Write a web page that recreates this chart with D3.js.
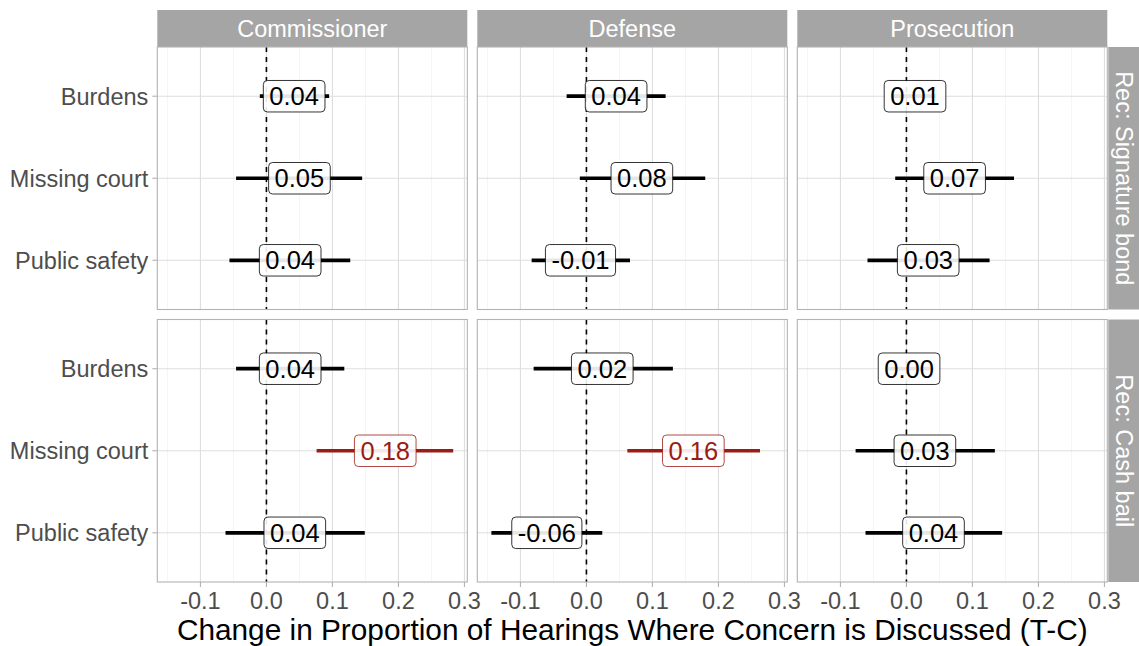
<!DOCTYPE html>
<html>
<head>
<meta charset="utf-8">
<script src="https://cdn.jsdelivr.net/npm/d3@7"></script>
<style>
  html, body { margin: 0; padding: 0; background: #ffffff; }
  svg { display: block; font-family: "Liberation Sans", Arial, Helvetica, sans-serif; }
</style>
</head>
<body>
<svg id="chart" width="1139" height="646"></svg>
<script>
// ---------------- DATA ----------------
const roles = ["Commissioner", "Defense", "Prosecution"];
const recs = ["Rec: Signature bond", "Rec: Cash bail"];
const concerns = ["Burdens", "Missing court", "Public safety"];
const xTicks = [-0.1, 0.0, 0.1, 0.2, 0.3];
const xMinorTicks = [-0.15, -0.05, 0.05, 0.15, 0.25];

// one entry per (rec, role, concern), in that nesting order
const rowRec     = ["Rec: Signature bond","Rec: Signature bond","Rec: Signature bond","Rec: Signature bond","Rec: Signature bond","Rec: Signature bond","Rec: Signature bond","Rec: Signature bond","Rec: Signature bond",
                    "Rec: Cash bail","Rec: Cash bail","Rec: Cash bail","Rec: Cash bail","Rec: Cash bail","Rec: Cash bail","Rec: Cash bail","Rec: Cash bail","Rec: Cash bail"];
const rowRole    = ["Commissioner","Commissioner","Commissioner","Defense","Defense","Defense","Prosecution","Prosecution","Prosecution",
                    "Commissioner","Commissioner","Commissioner","Defense","Defense","Defense","Prosecution","Prosecution","Prosecution"];
const rowConcern = ["Burdens","Missing court","Public safety","Burdens","Missing court","Public safety","Burdens","Missing court","Public safety",
                    "Burdens","Missing court","Public safety","Burdens","Missing court","Public safety","Burdens","Missing court","Public safety"];
const estimate   = [0.042, 0.050, 0.036, 0.045, 0.084, -0.009, 0.013, 0.073, 0.033,
                    0.036, 0.180, 0.043, 0.024, 0.162, -0.060, 0.004, 0.028, 0.041];
const lower      = [-0.010, -0.046, -0.056, -0.030, -0.010, -0.083, -0.020, -0.017, -0.059,
                    -0.046, 0.076, -0.062, -0.080, 0.062, -0.144, -0.030, -0.077, -0.062];
const upper      = [0.095, 0.145, 0.127, 0.120, 0.180, 0.066, 0.045, 0.163, 0.126,
                    0.118, 0.283, 0.149, 0.131, 0.263, 0.024, 0.040, 0.134, 0.145];
const significant = [false,false,false,false,false,false,false,false,false,
                     false,true,false,false,true,false,false,false,false];

const data = estimate.map((e, i) => ({
  rec: rowRec[i], role: rowRole[i], concern: rowConcern[i],
  est: e, lo: lower[i], hi: upper[i], sig: significant[i]
}));

// ---------------- LAYOUT ----------------
const svg = d3.select("#chart");
const panelLeft = 157.3, panelW = 310, panelGapX = 10;
const stripTop = 10, stripH = 37;
const panelTop = stripTop + stripH, panelH = 262.5, panelGapY = 10;
const rightStripW = 31;

const COL_BORDER = "#b3b3b3";
const COL_MAJOR = "#dedede";
const COL_MINOR = "#ececec";
const COL_STRIP = "#a5a5a5";
const COL_AXISTXT = "#4d4d4d";
const COL_SIG = "#9b1c14";

// x scale (with ggplot-like 5% expansion of the data range)
const lo = d3.min(data, d => d.lo), hi = d3.max(data, d => d.hi);
const pad = (hi - lo) * 0.05;
const x = d3.scaleLinear().domain([lo - pad, hi + pad]).range([0, panelW]);
const y = d3.scalePoint().domain(concerns).range([0, panelH]).padding(0.6);

const colX = i => panelLeft + i * (panelW + panelGapX);
const rowY = j => panelTop + j * (panelH + panelGapY);

// ---------------- STRIPS ----------------
roles.forEach((r, i) => {
  svg.append("rect").attr("x", colX(i)).attr("y", stripTop)
    .attr("width", panelW).attr("height", stripH).attr("fill", COL_STRIP);
  svg.append("text").attr("x", colX(i) + panelW / 2).attr("y", stripTop + stripH / 2 + 8.5)
    .attr("text-anchor", "middle").attr("fill", "#ffffff").attr("font-size", 23.5).text(r);
});
recs.forEach((r, j) => {
  const sx = colX(2) + panelW + 1;
  svg.append("rect").attr("x", sx).attr("y", rowY(j))
    .attr("width", rightStripW + 5).attr("height", panelH).attr("fill", COL_STRIP);
  const cx = sx + 16, cy = rowY(j) + panelH / 2;
  svg.append("text").attr("transform", `translate(${cx},${cy}) rotate(90)`)
    .attr("text-anchor", "middle").attr("dy", 8.5)
    .attr("fill", "#ffffff").attr("font-size", 23.5).text(r);
});

// ---------------- PANELS ----------------
recs.forEach((rec, j) => {
  roles.forEach((role, i) => {
    const g = svg.append("g").attr("transform", `translate(${colX(i)},${rowY(j)})`);
    // minor grid
    g.selectAll(".minor").data(xMinorTicks).join("line")
      .attr("x1", d => x(d)).attr("x2", d => x(d)).attr("y1", 0).attr("y2", panelH)
      .attr("stroke", COL_MINOR).attr("stroke-width", 0.6);
    // major grid
    g.selectAll(".majorx").data(xTicks).join("line")
      .attr("x1", d => x(d)).attr("x2", d => x(d)).attr("y1", 0).attr("y2", panelH)
      .attr("stroke", COL_MAJOR).attr("stroke-width", 1.1);
    g.selectAll(".majory").data(concerns).join("line")
      .attr("x1", 0).attr("x2", panelW).attr("y1", d => y(d)).attr("y2", d => y(d))
      .attr("stroke", COL_MAJOR).attr("stroke-width", 1.1);
    // zero line
    g.append("line").attr("x1", x(0)).attr("x2", x(0)).attr("y1", 0).attr("y2", panelH)
      .attr("stroke", "#000").attr("stroke-width", 1.6).attr("stroke-dasharray", "5,5");

    const pd = data.filter(d => d.rec === rec && d.role === role);
    // CI segments
    g.selectAll(".ci").data(pd).join("line")
      .attr("x1", d => x(d.lo)).attr("x2", d => x(d.hi))
      .attr("y1", d => y(d.concern)).attr("y2", d => y(d.concern))
      .attr("stroke", d => d.sig ? COL_SIG : "#000").attr("stroke-width", 3.7);
    // labels
    pd.forEach(d => {
      const lg = g.append("g");
      const txt = lg.append("text").attr("x", x(d.est)).attr("y", y(d.concern) + 9)
        .attr("text-anchor", "middle").attr("font-size", 25.5)
        .attr("fill", d.sig ? COL_SIG : "#000").text(d.est.toFixed(2));
      const tw = txt.node().getComputedTextLength();
      const bw = tw + 12, bh = 31.5;
      lg.insert("rect", "text").attr("x", x(d.est) - bw / 2).attr("y", y(d.concern) - bh / 2)
        .attr("width", bw).attr("height", bh).attr("rx", 4).attr("ry", 4)
        .attr("fill", "#ffffff").attr("fill-opacity", 0.9)
        .attr("stroke", d.sig ? COL_SIG : "#000").attr("stroke-width", 0.8);
    });
    // border
    g.append("rect").attr("x", 0).attr("y", 0).attr("width", panelW).attr("height", panelH)
      .attr("fill", "none").attr("stroke", COL_BORDER).attr("stroke-width", 1.1);

    // y axis on left column
    if (i === 0) {
      g.selectAll(".yt").data(concerns).join("line")
        .attr("x1", -5).attr("x2", 0).attr("y1", d => y(d)).attr("y2", d => y(d))
        .attr("stroke", COL_BORDER).attr("stroke-width", 1.1);
      g.selectAll(".yl").data(concerns).join("text")
        .attr("x", -9).attr("y", d => y(d) + 8.5).attr("text-anchor", "end")
        .attr("fill", COL_AXISTXT).attr("font-size", 23.5).text(d => d);
    }
    // x axis on bottom row
    if (j === recs.length - 1) {
      g.selectAll(".xt").data(xTicks).join("line")
        .attr("x1", d => x(d)).attr("x2", d => x(d)).attr("y1", panelH).attr("y2", panelH + 5)
        .attr("stroke", COL_BORDER).attr("stroke-width", 1.1);
      g.selectAll(".xl").data(xTicks).join("text")
        .attr("x", d => x(d)).attr("y", panelH + 27).attr("text-anchor", "middle")
        .attr("fill", COL_AXISTXT).attr("font-size", 23.5).text(d => d3.format(".1f")(d).replace("−", "-"));
    }
  });
});

// x axis title
svg.append("text").attr("x", panelLeft + (3 * panelW + 2 * panelGapX) / 2).attr("y", 640)
  .attr("text-anchor", "middle").attr("fill", "#000").attr("font-size", 29.8)
  .text("Change in Proportion of Hearings Where Concern is Discussed (T-C)");
</script>
</body>
</html>
